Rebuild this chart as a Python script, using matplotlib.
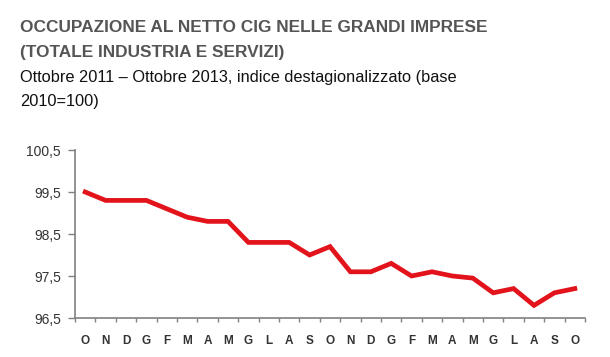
import matplotlib
matplotlib.use("Agg")
import matplotlib.pyplot as plt

# Monthly index, October 2011 - October 2013
months = ["O", "N", "D", "G", "F", "M", "A", "M", "G", "L", "A", "S",
          "O", "N", "D", "G", "F", "M", "A", "M", "G", "L", "A", "S", "O"]
values = [99.5, 99.3, 99.3, 99.3, 99.1, 98.9, 98.8, 98.8, 98.3, 98.3, 98.3, 98.0,
          98.2, 97.6, 97.6, 97.8, 97.5, 97.6, 97.5, 97.45, 97.1, 97.2, 96.8, 97.1, 97.2]
y_ticks = [96.5, 97.5, 98.5, 99.5, 100.5]

fig = plt.figure(figsize=(6.10, 3.57), dpi=100)
ax = fig.add_axes([75 / 610, 1 - 318 / 357, 510 / 610, 168 / 357])

x = list(range(len(values)))
ax.plot(x, values, color="#e3131b", linewidth=3.4, solid_joinstyle="miter")

ax.set_xlim(-0.5, len(values) - 0.5)
ax.set_ylim(96.5, 100.5)
ax.set_yticks(y_ticks)
ax.set_yticklabels([f"{v:.1f}".replace(".", ",") for v in y_ticks],
                   fontsize=10, color="#333333", family="Liberation Sans")
ax.set_xticks([i + 0.5 for i in range(-1, len(values))])
ax.set_xticklabels([])
ax.set_xticks(x, minor=True)
ax.set_xticklabels(months, minor=True, fontsize=8.5, color="#333333",
                   family="Liberation Sans", fontweight="bold")
ax.tick_params(axis="x", which="major", length=3, color="#808080", width=1)
ax.tick_params(axis="x", which="minor", length=0, pad=12)
ax.tick_params(axis="y", length=5, color="#808080", width=1, pad=5)

for side in ("top", "right"):
    ax.spines[side].set_visible(False)
for side in ("left", "bottom"):
    ax.spines[side].set_color("#808080")
    ax.spines[side].set_linewidth(1.2)

fig.text(20 / 610, 1 - 32 / 357, "OCCUPAZIONE AL NETTO CIG NELLE GRANDI IMPRESE",
         fontsize=12.4, fontweight="bold", color="#555555", family="Liberation Sans",
         va="baseline")
fig.text(20 / 610, 1 - 57 / 357, "(TOTALE INDUSTRIA E SERVIZI)",
         fontsize=12.4, fontweight="bold", color="#555555", family="Liberation Sans",
         va="baseline")
fig.text(20 / 610, 1 - 82 / 357,
         "Ottobre 2011 \u2013 Ottobre 2013, indice destagionalizzato (base",
         fontsize=11.8, color="#111111", family="Liberation Sans", va="baseline")
fig.text(20 / 610, 1 - 106 / 357, "2010=100)",
         fontsize=11.8, color="#111111", family="Liberation Sans", va="baseline")

fig.savefig("out.png", dpi=100)
